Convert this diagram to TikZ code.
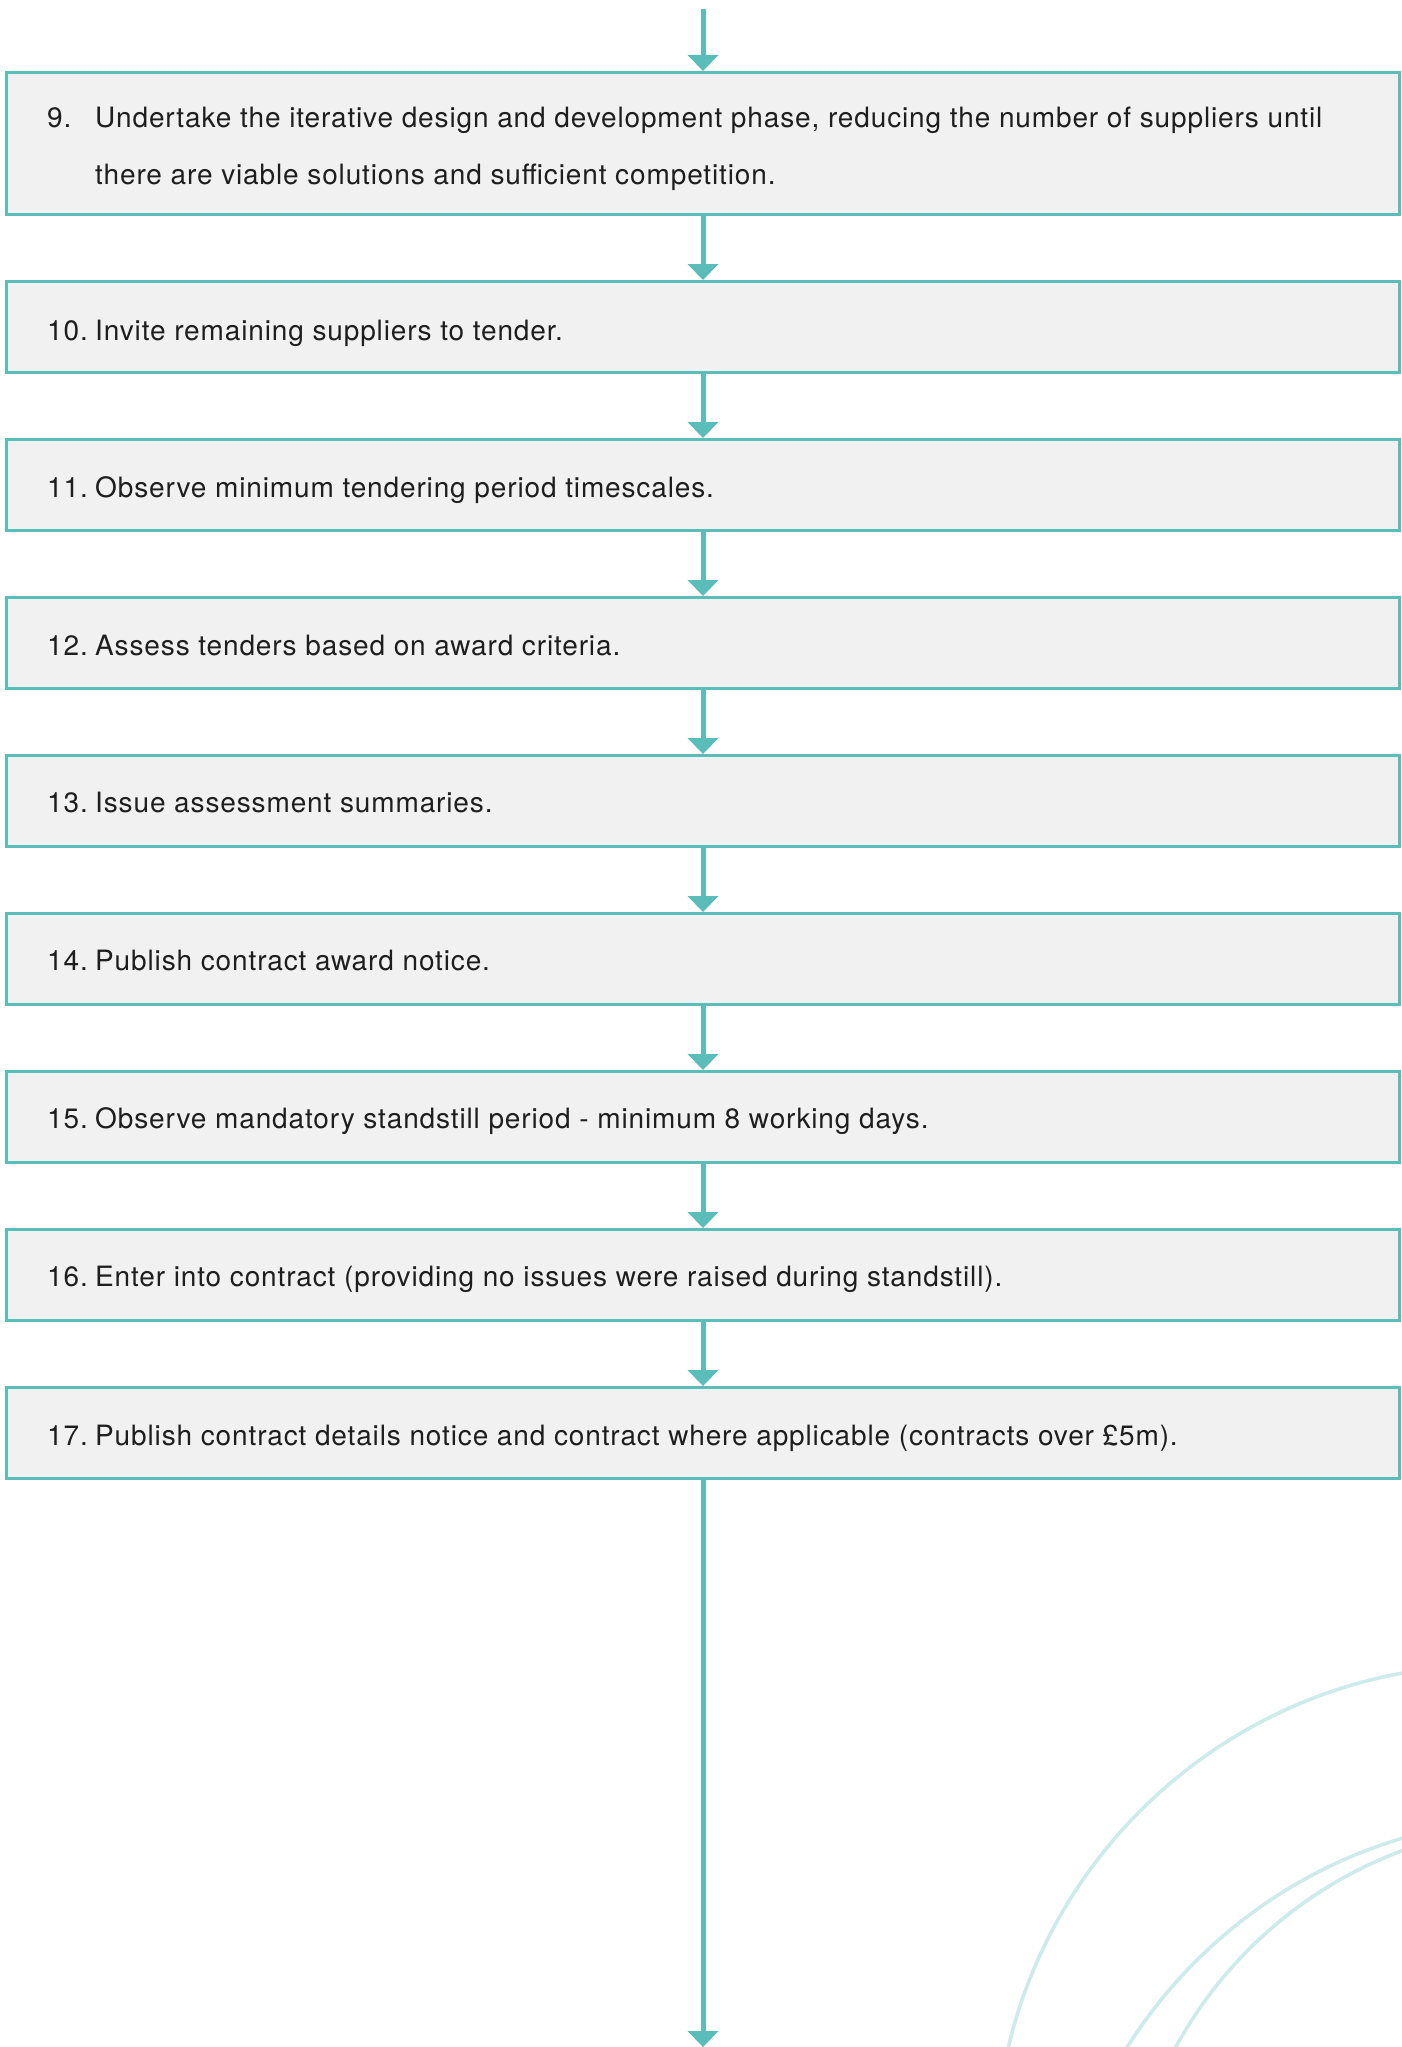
\documentclass[tikz,border=0pt]{standalone}
\usepackage{fontspec}
\setmainfont{TeX Gyre Heros}[LetterSpace=3.1]
\usetikzlibrary{arrows.meta}

\definecolor{flowteal}{HTML}{5BBDB9}
\definecolor{boxfill}{HTML}{F1F1F1}
\definecolor{inkgray}{HTML}{1E1E1E}
\definecolor{ringteal}{HTML}{CDEBEA}

\begin{document}
\begin{tikzpicture}[
  x=1pt, y=-1pt,
  stepbox/.style={draw=flowteal, fill=boxfill, line width=3pt,
    minimum width=1393pt, minimum height=91pt, inner sep=0pt},
  num/.style={anchor=base west, inner sep=0pt, text=inkgray,
    font=\fontsize{28}{34}\selectfont},
  txt/.style={num},
  flow/.style={draw=flowteal, line width=5pt,
    -{Triangle[width=31pt, length=16pt, line width=0pt]}},
  ring/.style={draw=ringteal, line width=3.6pt},
]
\useasboundingbox (0,0) rectangle (1402,2047);

% decorative rings in the lower right corner
\begin{scope}
  \clip (0,0) rectangle (1402,2047);
  \draw[ring] (1492,2162) circle[radius=497pt];
  \draw[ring] (1542,2308) circle[radius=490pt];
  \draw[ring] (1551,2251) circle[radius=427pt];
\end{scope}

% process steps
\node[stepbox, minimum height=142pt] (s9) at (703,143.5) {};
\node[stepbox] (s10) at (703,327) {};
\node[stepbox] (s11) at (703,485) {};
\node[stepbox] (s12) at (703,643) {};
\node[stepbox] (s13) at (703,801) {};
\node[stepbox] (s14) at (703,959) {};
\node[stepbox] (s15) at (703,1117) {};
\node[stepbox] (s16) at (703,1275) {};
\node[stepbox] (s17) at (703,1433) {};

% step texts
\node[num] (n9) at (47,128) {9.};
\node[txt] (t9a) at (95,128) {Undertake the iterative design and development phase, reducing the number of suppliers until};
\node[txt] (t9b) at (95,184) {there are viable solutions and sufficient competition.};
\node[num] (n10) at (47,340) {10.};
\node[txt] (t10) at (95,340) {Invite remaining suppliers to tender.};
\node[num] (n11) at (47,497.5) {11.};
\node[txt] (t11) at (95,497.5) {Observe minimum tendering period timescales.};
\node[num] (n12) at (47,655) {12.};
\node[txt] (t12) at (95,655) {Assess tenders based on award criteria.};
\node[num] (n13) at (47,812.5) {13.};
\node[txt] (t13) at (95,812.5) {Issue assessment summaries.};
\node[num] (n14) at (47,970.5) {14.};
\node[txt] (t14) at (95,970.5) {Publish contract award notice.};
\node[num] (n15) at (47,1128.5) {15.};
\node[txt] (t15) at (95,1128.5) {Observe mandatory standstill period - minimum 8 working days.};
\node[num] (n16) at (47,1286.5) {16.};
\node[txt] (t16) at (95,1286.5) {Enter into contract (providing no issues were raised during standstill).};
\node[num] (n17) at (47,1445) {17.};
\node[txt] (t17) at (95,1445) {Publish contract details notice and contract where applicable (contracts over £5m).};

% connectors
\coordinate (in) at (703,9);
\coordinate (out) at (703,2047);
\draw[flow] (in) -- (s9);
\draw[flow] (s9) -- (s10);
\draw[flow] (s10) -- (s11);
\draw[flow] (s11) -- (s12);
\draw[flow] (s12) -- (s13);
\draw[flow] (s13) -- (s14);
\draw[flow] (s14) -- (s15);
\draw[flow] (s15) -- (s16);
\draw[flow] (s16) -- (s17);
\draw[flow] (s17) -- (out);
\end{tikzpicture}
\end{document}
